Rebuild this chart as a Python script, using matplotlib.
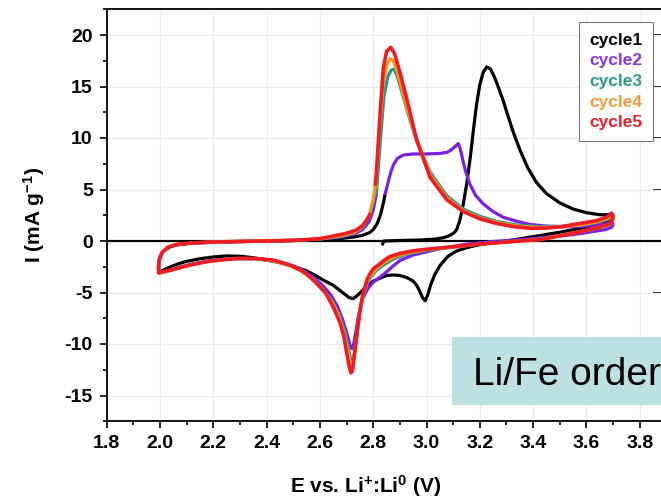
import matplotlib
matplotlib.use('Agg')
import matplotlib.pyplot as plt
from matplotlib.ticker import MultipleLocator, FormatStrFormatter
from matplotlib.patches import Rectangle
from matplotlib.lines import Line2D

plt.rcParams['font.family'] = ['Liberation Sans', 'DejaVu Sans']
plt.rcParams['mathtext.fontset'] = 'custom'
plt.rcParams['mathtext.rm'] = 'Liberation Sans:bold'
plt.rcParams['mathtext.it'] = 'Liberation Sans:bold'
plt.rcParams['mathtext.bf'] = 'Liberation Sans:bold'
plt.rcParams['axes.unicode_minus'] = False

# ---------------- data (E in V, I in mA/g) ----------------
labels = ['cycle1', 'cycle2', 'cycle3', 'cycle4', 'cycle5']
line_colors = ['#000000', '#7b1fe8', '#1f9988', '#f7941d', '#f01c24']
legend_colors = ['#000000', '#8a35ee', '#2a9c8c', '#f39a3c', '#e8202a']

cycle1 = [(2.835,-0.3),(2.84,0.0),(2.90,0.05),(2.98,0.1),(3.03,0.18),(3.06,0.3),(3.08,0.45),
          (3.095,0.65),(3.105,0.85),(3.113,1.1),(3.125,2.0),(3.138,3.6),(3.151,5.6),(3.165,8.3),
          (3.176,10.8),(3.188,13.3),(3.20,15.2),(3.213,16.4),(3.226,16.9),(3.24,16.7),(3.255,15.9),
          (3.27,14.9),(3.288,13.6),(3.30,12.6),(3.325,10.6),(3.351,8.8),(3.38,7.1),(3.412,5.7),
          (3.45,4.6),(3.50,3.7),(3.55,3.1),(3.60,2.75),(3.65,2.55),(3.68,2.55),(3.695,2.65),
          (3.70,2.5),(3.695,2.2),(3.68,1.95),(3.65,1.65),(3.60,1.35),(3.55,1.1),(3.50,0.85),
          (3.43,0.55),(3.36,0.25),(3.30,0.0),(3.25,-0.15),(3.20,-0.35),(3.15,-0.65),(3.11,-1.0),
          (3.08,-1.5),(3.05,-2.4),(3.03,-3.3),(3.015,-4.3),(3.005,-5.2),(2.995,-5.8),(2.985,-5.5),
          (2.975,-4.9),(2.963,-4.3),(2.95,-3.9),(2.926,-3.55),(2.90,-3.35),(2.876,-3.3),(2.85,-3.35),
          (2.826,-3.6),(2.80,-3.9),(2.78,-4.3),(2.76,-4.8),(2.74,-5.3),(2.725,-5.6),(2.71,-5.5),
          (2.69,-5.1),(2.675,-4.8),(2.65,-4.3),(2.613,-3.8),(2.58,-3.3),(2.55,-2.9),(2.50,-2.45),
          (2.45,-2.1),(2.40,-1.85),(2.35,-1.62),(2.30,-1.48),(2.25,-1.45),(2.20,-1.55),(2.15,-1.72),
          (2.10,-1.98),(2.07,-2.2),(2.05,-2.4),(2.03,-2.62),(2.015,-2.8),(2.003,-2.95),(1.997,-2.95),
          (1.995,-2.6),(1.997,-1.9),(2.003,-1.4),(2.015,-0.95),(2.035,-0.6),(2.06,-0.38),(2.10,-0.25),
          (2.15,-0.17),(2.20,-0.12),(2.30,-0.06),(2.40,-0.01),(2.50,0.04),(2.60,0.12),(2.68,0.25),
          (2.73,0.4),(2.76,0.55),(2.785,0.8),(2.80,1.1),(2.815,1.7),(2.828,2.6),(2.838,3.7),(2.845,4.6)]

cycle2 = [(2.845,4.6),(2.855,5.6),(2.866,6.7),(2.876,7.4),(2.89,8.0),(2.913,8.35),(2.95,8.45),
          (3.0,8.45),(3.05,8.5),(3.076,8.6),(3.09,8.8),(3.10,9.0),(3.112,9.3),(3.119,9.45),
          (3.126,9.0),(3.135,8.0),(3.145,6.9),(3.163,5.5),(3.185,4.4),(3.213,3.6),(3.25,2.85),
          (3.288,2.3),(3.34,1.9),(3.39,1.6),(3.45,1.45),(3.51,1.38),(3.57,1.4),(3.63,1.5),
          (3.67,1.65),(3.695,1.85),(3.70,1.65),(3.695,1.35),(3.67,1.1),(3.62,0.9),(3.55,0.62),
          (3.45,0.35),(3.35,0.12),(3.25,-0.05),(3.15,-0.3),(3.05,-0.75),(2.95,-1.36),(2.90,-1.9),
          (2.876,-2.4),(2.85,-3.0),(2.826,-3.5),(2.80,-4.0),(2.78,-4.6),(2.76,-5.6),(2.745,-7.2),
          (2.735,-8.8),(2.726,-10.1),(2.72,-10.45),(2.713,-10.1),(2.70,-8.9),(2.685,-7.6),
          (2.665,-6.3),(2.64,-5.2),(2.61,-4.3),(2.575,-3.5),(2.53,-2.75),(2.48,-2.25),(2.42,-1.88),
          (2.35,-1.72),(2.28,-1.72),(2.2,-1.88),(2.13,-2.17),(2.08,-2.5),(2.04,-2.8),(2.01,-3.0),
          (1.997,-3.05),(1.995,-2.6),(1.998,-1.8),(2.01,-1.1),(2.03,-0.62),(2.06,-0.38),(2.12,-0.2),
          (2.2,-0.12),(2.3,-0.05),(2.4,0.0),(2.5,0.06),(2.6,0.18),(2.68,0.4),(2.73,0.7),(2.76,1.1),
          (2.785,1.9),(2.80,3.0),(2.812,4.6)]

cycle3 = [(2.812,4.6),(2.826,9.5),(2.84,14.0),(2.855,16.0),(2.868,16.6),(2.878,16.7),(2.89,16.0),
          (2.905,14.7),(2.93,12.4),(2.965,9.6),(3.013,6.7),(3.076,4.4),(3.138,3.1),(3.2,2.4),
          (3.263,1.9),(3.34,1.55),(3.42,1.4),(3.5,1.42),(3.58,1.55),(3.64,1.8),(3.68,2.1),
          (3.698,2.4),(3.70,2.1),(3.69,1.6),(3.65,1.3),(3.55,0.75),(3.43,0.2),(3.3,-0.1),(3.2,-0.3),
          (3.1,-0.6),(3.0,-0.9),(2.93,-1.25),(2.88,-1.7),(2.84,-2.3),(2.81,-2.9),(2.785,-3.7),
          (2.765,-5.0),(2.75,-6.8),(2.74,-8.8),(2.73,-10.8),(2.722,-11.7),(2.714,-11.3),(2.703,-9.9),
          (2.69,-8.5),(2.67,-7.0),(2.645,-5.8),(2.61,-4.6),(2.575,-3.7),(2.53,-2.85),(2.48,-2.3),
          (2.42,-1.9),(2.35,-1.72),(2.28,-1.72),(2.2,-1.9),(2.13,-2.2),(2.08,-2.55),(2.04,-2.85),
          (2.01,-3.05),(1.997,-3.1),(1.995,-2.6),(1.998,-1.8),(2.01,-1.1),(2.03,-0.6),(2.06,-0.35),
          (2.12,-0.18),(2.2,-0.1),(2.3,-0.03),(2.4,0.02),(2.5,0.08),(2.6,0.2),(2.68,0.45),(2.73,0.8),
          (2.76,1.3),(2.785,2.3),(2.80,3.8),(2.81,5.2)]

cycle4 = [(2.81,5.2),(2.823,10.5),(2.838,15.5),(2.852,17.2),(2.865,17.7),(2.875,17.5),(2.888,16.6),
          (2.905,15.0),(2.93,12.6),(2.965,9.8),(3.013,6.5),(3.076,4.2),(3.138,2.95),(3.2,2.25),
          (3.263,1.8),(3.34,1.45),(3.42,1.32),(3.5,1.38),(3.58,1.55),(3.64,1.85),(3.68,2.2),
          (3.698,2.5),(3.70,2.2),(3.69,1.65),(3.65,1.32),(3.55,0.75),(3.43,0.18),(3.3,-0.1),
          (3.2,-0.3),(3.1,-0.57),(3.0,-0.85),(2.93,-1.15),(2.88,-1.55),(2.84,-2.1),(2.81,-2.75),
          (2.785,-3.5),(2.765,-4.9),(2.75,-6.8),(2.74,-8.9),(2.73,-11.0),(2.722,-12.2),(2.714,-11.9),
          (2.703,-10.4),(2.69,-8.9),(2.67,-7.2),(2.645,-5.9),(2.61,-4.7),(2.575,-3.75),(2.53,-2.9),
          (2.48,-2.33),(2.42,-1.9),(2.35,-1.7),(2.28,-1.7),(2.2,-1.92),(2.13,-2.22),(2.08,-2.55),
          (2.04,-2.85),(2.01,-3.05),(1.997,-3.1),(1.995,-2.6),(1.998,-1.8),(2.01,-1.1),(2.03,-0.6),
          (2.06,-0.35),(2.12,-0.18),(2.2,-0.1),(2.3,-0.03),(2.4,0.02),(2.5,0.08),(2.6,0.22),
          (2.68,0.5),(2.73,0.85),(2.76,1.4),(2.785,2.5),(2.80,4.0),(2.808,5.5)]

cycle5 = [(2.808,5.5),(2.813,7.0),(2.826,12.5),(2.838,16.8),(2.85,18.4),(2.866,18.8),(2.88,18.2),
          (2.90,16.4),(2.925,13.9),(2.963,9.8),(3.013,6.2),(3.076,4.0),(3.138,2.85),(3.2,2.15),
          (3.263,1.7),(3.33,1.38),(3.39,1.23),(3.45,1.25),(3.51,1.4),(3.55,1.6),(3.6,1.8),
          (3.64,2.0),(3.675,2.3),(3.695,2.7),(3.70,2.3),(3.69,1.7),(3.65,1.35),(3.55,0.75),
          (3.43,0.15),(3.3,-0.1),(3.2,-0.3),(3.1,-0.55),(3.0,-0.8),(2.95,-0.95),(2.9,-1.2),
          (2.863,-1.5),(2.84,-1.9),(2.826,-2.2),(2.80,-2.7),(2.785,-3.3),(2.776,-3.8),(2.76,-5.3),
          (2.75,-6.8),(2.74,-8.8),(2.73,-11.0),(2.722,-12.6),(2.716,-12.8),(2.71,-12.2),(2.70,-10.8),
          (2.69,-9.3),(2.675,-7.9),(2.65,-6.4),(2.62,-5.0),(2.587,-4.1),(2.55,-3.2),(2.525,-2.8),
          (2.49,-2.35),(2.425,-1.85),(2.36,-1.7),(2.30,-1.68),(2.24,-1.8),(2.175,-2.0),(2.12,-2.3),
          (2.08,-2.55),(2.05,-2.75),(2.02,-2.95),(2.0,-3.05),(1.995,-3.1),(1.994,-2.6),(1.997,-1.8),
          (2.008,-1.1),(2.03,-0.6),(2.06,-0.35),(2.12,-0.18),(2.2,-0.1),(2.3,-0.04),(2.4,0.0),
          (2.5,0.06),(2.6,0.22),(2.638,0.42),(2.70,0.75),(2.737,1.07),(2.76,1.5),(2.775,2.0),
          (2.788,2.6)]

cycles = [cycle1, cycle2, cycle3, cycle4, cycle5]
line_widths = [2.3, 2.3, 2.3, 2.3, 2.6]

x_ticks = [1.8, 2.0, 2.2, 2.4, 2.6, 2.8, 3.0, 3.2, 3.4, 3.6, 3.8]
y_ticks = [-15, -10, -5, 0, 5, 10, 15, 20]
annotation = 'Li/Fe ordering'

# ---------------- figure ----------------
W, H = 661, 501
fig = plt.figure(figsize=(W / 100, H / 100), dpi=100)
fig.patch.set_facecolor('white')
ax_l, ax_r, ax_t, ax_b = 106.7, 666.4, 9.25, 421.25
ax = fig.add_axes([ax_l / W, 1 - ax_b / H, (ax_r - ax_l) / W, (ax_b - ax_t) / H])
ax.set_xlim(1.8, 3.9)
ax.set_ylim(-17.5, 22.5)

ax.set_xticks(x_ticks)
ax.set_yticks(y_ticks)
ax.xaxis.set_minor_locator(MultipleLocator(0.1))
ax.yaxis.set_minor_locator(MultipleLocator(2.5))
ax.xaxis.set_major_formatter(FormatStrFormatter('%.1f'))
ax.tick_params(which='major', direction='out', length=5, width=1.2, labelsize=14, pad=5)
ax.tick_params(which='minor', direction='out', length=3, width=1.2)
for lab in ax.get_xticklabels() + ax.get_yticklabels():
    lab.set_fontweight('bold')
for sp in ax.spines.values():
    sp.set_linewidth(1.3)

sec = ax.secondary_yaxis('right')
sec.set_yticks(y_ticks)
sec.tick_params(direction='in', length=9.5, width=1.2, labelright=False)

ax.grid(True, which='major', color='#ececec', lw=0.8, zorder=0)
ax.set_axisbelow(True)
ax.axhline(0, color='black', lw=1.6, zorder=2)

for data, c, lw in zip(cycles, line_colors, line_widths):
    E = [p[0] for p in data]
    I = [p[1] for p in data]
    ax.plot(E, I, color=c, lw=lw, solid_joinstyle='round', solid_capstyle='round', zorder=3)

ax.set_xlabel(r'E vs. Li$^{+}$:Li$^{0}$ (V)', fontsize=15, fontweight='bold')
ax.set_ylabel(r'I (mA g$^{-1}$)', fontsize=15, fontweight='bold')
ax.xaxis.set_label_coords((366 - ax_l) / (ax_r - ax_l), -(486 - ax_b) / (ax_b - ax_t), transform=ax.transAxes)
ax.yaxis.set_label_coords(-(ax_l - 34) / (ax_r - ax_l), 0.5)
ax.xaxis.label.set_va('center')
ax.yaxis.label.set_va('center')

handles = [Line2D([], [], lw=0) for _ in labels]
leg = ax.legend(handles, labels, loc='upper left', bbox_to_anchor=(579 / W, 1 - 22 / H),
                bbox_transform=fig.transFigure, handlelength=0, handletextpad=0,
                labelcolor=legend_colors, prop={'weight': 'bold', 'size': 12.5},
                frameon=True, fancybox=False, edgecolor='#777777', framealpha=1,
                borderaxespad=0, borderpad=0.6, labelspacing=0.32)
leg.get_frame().set_linewidth(0.8)

rect = Rectangle((452 / W, 1 - 405 / H), (720 - 452) / W, (405 - 337) / H,
                 transform=fig.transFigure, facecolor='#bde0e3', edgecolor='none', zorder=5)
fig.add_artist(rect)
fig.text(473 / W, 1 - 385 / H, annotation, fontsize=28, ha='left', va='baseline', zorder=6,
         color='black')

fig.savefig('out.png', dpi=100)
